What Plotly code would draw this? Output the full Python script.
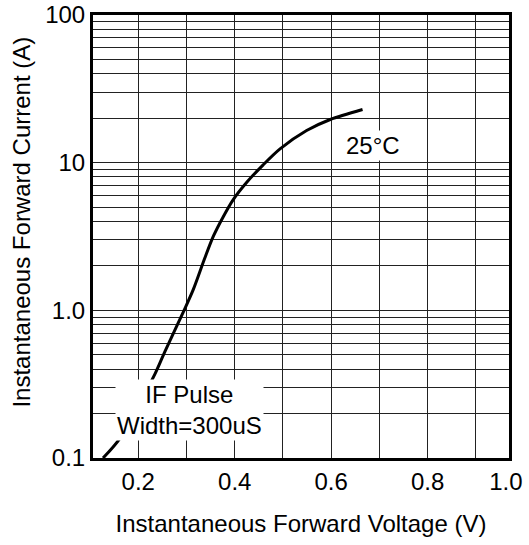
import plotly.graph_objects as go

# Curve data (forward voltage V, forward current A)
vf = [0.127, 0.162, 0.235, 0.255, 0.295, 0.314, 0.338, 0.356, 0.376, 0.397,
      0.425, 0.459, 0.494, 0.549, 0.598, 0.665]
i_f = [0.100, 0.136, 0.373, 0.524, 1.00, 1.38, 2.26, 3.19, 4.29, 5.62,
       7.36, 9.67, 12.4, 16.5, 19.6, 22.9]

# Axis ticks
x_tickvals = [0.2, 0.4, 0.6, 0.8, 0.962]
x_ticktext = ["0.2", "0.4", "0.6", "0.8", "1.0"]
x_range = [0.1062, 0.9686]

y_tickvals = [0.1, 0.2, 0.3, 0.4, 0.5, 0.6, 0.7, 0.8, 0.9,
              1, 2, 3, 4, 5, 6, 7, 8, 9,
              10, 20, 30, 40, 50, 60, 70, 80, 90, 100]
y_ticktext = ["0.1", "", "", "", "", "", "", "", "",
              "1.0", "", "", "", "", "", "", "", "",
              "10", "", "", "", "", "", "", "", "", "100"]

FONT = "Arial, 'Liberation Sans', sans-serif"

fig = go.Figure()
fig.add_trace(go.Scatter(x=vf, y=i_f, mode="lines",
                         line=dict(color="black", width=3, shape="spline", smoothing=0.8),
                         showlegend=False, hoverinfo="skip"))

fig.add_annotation(text="25°C", xref="paper", yref="paper", x=0.673, y=0.7065,
                   xanchor="center", yanchor="middle",
                   showarrow=False, bgcolor="white", borderpad=1,
                   font=dict(family=FONT, size=24, color="black"))
fig.add_annotation(text="IF Pulse<br>Width=300uS", xref="paper", yref="paper",
                   x=0.231, y=0.108, xanchor="center", yanchor="middle",
                   showarrow=False, bgcolor="white", borderpad=1,
                   font=dict(family=FONT, size=24, color="black"))
# y-axis title (placed as a rotated annotation to match the reference position)
fig.add_annotation(text="Instantaneous Forward Current (A)", xref="paper", yref="paper",
                   x=-0.1714, y=0.533, xanchor="center", yanchor="middle",
                   textangle=-90, showarrow=False,
                   font=dict(family=FONT, size=24, color="black"))

fig.update_xaxes(range=x_range, tickvals=x_tickvals, ticktext=x_ticktext,
                 showgrid=False,
                 minor=dict(dtick=0.1, tick0=0, showgrid=True, gridcolor="#222", gridwidth=1),
                 showline=True, linecolor="black", linewidth=3, mirror=True,
                 ticks="", zeroline=False, automargin=False, ticklabeloverflow="allow",
                 tickfont=dict(family=FONT, size=24, color="black"),
                 title=dict(text="Instantaneous Forward Voltage (V)", standoff=22,
                            font=dict(family=FONT, size=24, color="black")))
fig.update_yaxes(type="log", range=[-1, 2], tickvals=y_tickvals, ticktext=y_ticktext,
                 showgrid=True, gridcolor="#222", gridwidth=1,
                 showline=True, linecolor="black", linewidth=3, mirror=True,
                 ticks="", zeroline=False, automargin=False, ticklabeloverflow="allow",
                 tickfont=dict(family=FONT, size=24, color="black"))

fig.update_layout(width=529, height=545, autosize=False,
                  margin=dict(l=93, r=20, t=15, b=87),
                  paper_bgcolor="white", plot_bgcolor="white")

# remove the browser's default 8px body margin so the figure fills the window
fig.write_html("out.html", config={"displayModeBar": False},
               post_script="document.body.style.margin='0';")
